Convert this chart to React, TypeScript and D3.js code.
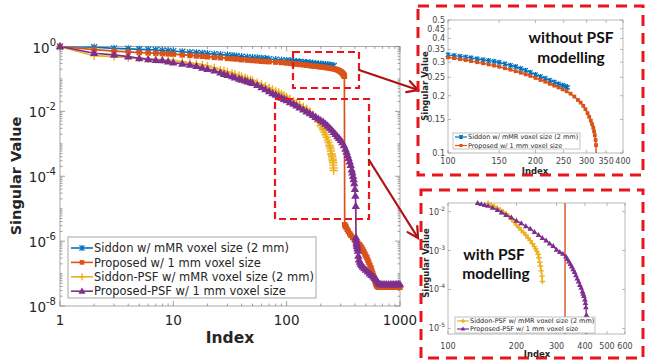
import React from 'react';
import * as d3 from 'd3';

// ---------------- Main plot data ----------------
const sidIdx = [1,2,3,4,5,6,7,8,9,10,12,14,16,18,20,23,26,30,33,36,40,45,50,55,60,65,70,80,90,100,108,115,122,130,140,150,160,170,180,190,200,210,220,230,240,250,260];
const sidVal = [1.0,0.95,0.88,0.85,0.82,0.8,0.78,0.76,0.74,0.72,0.69,0.66,0.64,0.62,0.6,0.58,0.56,0.54,0.525,0.51,0.49,0.47,0.455,0.445,0.43,0.42,0.41,0.395,0.38,0.37,0.36,0.35,0.342,0.335,0.327,0.32,0.312,0.305,0.297,0.29,0.285,0.28,0.275,0.27,0.265,0.26,0.25];

const propIdx = [1,2,3,4,5,6,7,8,9,10,12,14,16,18,20,23,26,30,33,36,40,45,50,55,60,65,70,80,90,100,108,115,122,130,140,150,160,170,180,190,200,210,220,230,240,250,260,270,278,285,292,298,303,308,312,315,318,320,322,323,
  325,330,334,342,350,360,369,382,395,410,425,438,450,460,470,480,490,500,510,520,530,543,555,565,575,583,590,598,605,612,620,635,650,670,690,710,735,760,790,820,850,880,910,940,970,1000];
const propVal = [1.0,0.8,0.72,0.68,0.65,0.63,0.61,0.6,0.59,0.58,0.55,0.53,0.51,0.5,0.48,0.46,0.45,0.43,0.42,0.41,0.39,0.38,0.37,0.36,0.35,0.345,0.34,0.33,0.32,0.31,0.302,0.295,0.288,0.28,0.272,0.265,0.257,0.25,0.245,0.24,0.235,0.23,0.225,0.22,0.215,0.21,0.205,0.2,0.193,0.185,0.177,0.17,0.162,0.155,0.148,0.14,0.135,0.13,0.125,0.12,
  3.2e-6,2.9e-6,2.7e-6,2.3e-6,2e-6,1.7e-6,1.5e-6,1.3e-6,1.1e-6,9.8e-7,8.7e-7,7.8e-7,7e-7,6.2e-7,5.4e-7,4.7e-7,4e-7,3.5e-7,3.1e-7,2.6e-7,2.2e-7,1.8e-7,1.5e-7,1.2e-7,1e-7,8.5e-8,7.5e-8,6.3e-8,5.5e-8,4.8e-8,4.2e-8,3.9e-8,3.8e-8,3.8e-8,3.8e-8,3.8e-8,3.8e-8,3.8e-8,3.8e-8,3.8e-8,3.8e-8,3.8e-8,3.8e-8,3.8e-8,3.8e-8,3.8e-8];

const sidPsfIdx = [1,2,3,4,5,6,7,8,9,10,12,14,16,18,20,23,26,28,30,33,35,38,40,43,45,48,50,55,60,65,70,75,80,85,90,95,100,107,115,122,130,140,150,160,170,180,190,200,205,210,215,220,225,230,234,238,241,244,246,248,250,252,254,255,257,258,259,260];
const sidPsfVal = [1.0,0.52,0.49,0.46,0.44,0.42,0.4,0.39,0.38,0.37,0.34,0.31,0.29,0.27,0.25,0.22,0.19,0.178,0.165,0.15,0.14,0.128,0.12,0.11,0.1,0.094,0.088,0.077,0.068,0.06,0.053,0.047,0.042,0.038,0.034,0.031,0.028,0.024,0.021,0.018,0.016,0.014,0.012,0.0098,0.0078,0.0062,0.0048,0.0036,0.0031,0.0027,0.0023,0.0019,0.0016,0.0013,0.0011,0.0009,0.0008,0.0007,0.0006,0.0005,0.00045,0.0004,0.00034,0.0003,0.00026,0.00022,0.00018,0.00015];

const propPsfIdx = [1,2,3,4,5,6,7,8,9,10,12,14,16,18,20,23,26,28,30,33,35,38,40,43,45,48,50,55,60,65,70,75,80,85,90,95,100,107,115,122,130,140,150,160,170,180,190,200,210,220,230,240,250,260,270,280,290,300,310,320,330,338,345,352,360,367,375,380,385,390,395,400,404,407,
  409,411,413,415,418,421,425,429,434,442,450,460,470,485,500,520,540,560,580,598,616,633,650,670,690,710,735,760,790,820,850,880,910,940,970,1000];
const propPsfVal = [1.0,0.62,0.55,0.49,0.43,0.4,0.38,0.37,0.34,0.32,0.29,0.27,0.25,0.22,0.2,0.18,0.155,0.14,0.13,0.12,0.11,0.1,0.093,0.088,0.083,0.078,0.074,0.064,0.055,0.048,0.041,0.036,0.032,0.029,0.026,0.024,0.022,0.019,0.017,0.015,0.013,0.0113,0.0099,0.0087,0.0076,0.0067,0.006,0.0053,0.0047,0.0041,0.0036,0.0031,0.0027,0.0023,0.002,0.0017,0.0015,0.0013,0.0011,0.0009,0.0007,0.00056,0.00045,0.00036,0.00028,0.00022,0.00016,0.00013,0.0001,8e-5,6e-5,4e-5,2.5e-5,1.2e-5,
  1.3e-6,1.1e-6,9e-7,8e-7,7e-7,6e-7,5e-7,3.5e-7,2.7e-7,2.3e-7,2e-7,1.8e-7,1.6e-7,1.45e-7,1.3e-7,1.15e-7,1e-7,9e-8,8e-8,7.2e-8,6.6e-8,5.6e-8,5e-8,4.6e-8,4.6e-8,4.6e-8,4.6e-8,4.6e-8,4.6e-8,4.6e-8,4.6e-8,4.6e-8,4.6e-8,4.6e-8,4.6e-8,4.6e-8];

// ---------------- Inset "without PSF" data ----------------
const inSidIdx = [100,105,110,115,120,126,132,138,144,150,157,164,171,178,185,192,200,208,216,224,232,240,248,254,258];
const inSidVal = [0.328,0.325,0.322,0.319,0.316,0.312,0.309,0.306,0.303,0.299,0.294,0.289,0.284,0.278,0.272,0.265,0.258,0.252,0.247,0.241,0.236,0.231,0.227,0.224,0.221];
const inPropIdx = [100,105,110,115,120,126,132,138,144,150,157,164,171,178,185,192,200,208,216,224,232,240,248,256,264,272,280,286,292,297,302,306,310,313,316,318,320,322,323,324];
const inPropVal = [0.318,0.315,0.311,0.308,0.304,0.3,0.296,0.292,0.288,0.284,0.279,0.274,0.269,0.264,0.259,0.254,0.248,0.242,0.237,0.231,0.226,0.221,0.216,0.211,0.205,0.198,0.19,0.184,0.177,0.17,0.162,0.155,0.148,0.142,0.136,0.13,0.124,0.117,0.11,0.05];

// ---------------- Inset "with PSF" data ----------------
const inSidPsfIdx = [145,150,155,160,165,170,175,180,185,190,195,200,205,210,215,220,225,230,235,240,243,246,249,251,253,255,257,259,260];
const inSidPsfVal = [0.0172,0.0162,0.0148,0.0135,0.0122,0.011,0.0098,0.0088,0.0076,0.0065,0.0055,0.0045,0.0039,0.0033,0.0029,0.0025,0.0021,0.0018,0.0015,0.00126,0.0011,0.00095,0.0008,0.00065,0.0005,0.0004,0.0003,0.00022,0.00016];
const inPropPsfIdx = [135,140,145,150,157,165,172,180,190,200,210,220,230,240,250,260,270,280,290,300,310,320,330,335,340,345,350,355,360,365,370,375,380,385,390,393,396,400,402,404,406,407];
const inPropPsfVal = [0.0165,0.0155,0.0147,0.014,0.0125,0.011,0.0095,0.0082,0.007,0.0058,0.005,0.0042,0.0036,0.003,0.0025,0.0021,0.0018,0.0015,0.0013,0.00105,0.00092,0.00082,0.0007,0.0006,0.00052,0.00045,0.00039,0.00033,0.00028,0.00023,0.00019,0.00016,0.00013,0.00011,8.9e-5,7.8e-5,6.8e-5,5.5e-5,4.5e-5,3.5e-5,2.2e-5,3e-6];
const inDropIdx = [327,327];
const inDropVal = [0.12,3e-6];

// ---------------- Labels ----------------
const legendLabels = [
  'Siddon w/ mMR voxel size (2 mm)',
  'Proposed w/ 1 mm voxel size',
  'Siddon-PSF w/ mMR voxel size (2 mm)',
  'Proposed-PSF w/ 1 mm voxel size',
];
const mainXTicks = [1,10,100,1000];
const mainYExps = [0,-2,-4,-6,-8];
const in1XTicks = [100,150,200,250,300,350,400];
const in1YTicks = [0.1,0.15,0.2,0.25,0.3,0.35,0.4,0.45,0.5];
const in2XTicks = [100,200,300,400,500,600];
const in2YExps = [-2,-3,-4,-5];

const C = { blue: '#0072BD', orange: '#D95319', yellow: '#EDB120', purple: '#7E2F8E' };
const FONT = 'DejaVu Sans, sans-serif';
const RED = '#E8161C';
const DARKRED = '#B01010';

type MT = 'ast' | 'sq' | 'plus' | 'tri';

function Mark({ t, x, y, c, s }: { t: MT; x: number; y: number; c: string; s: number }) {
  if (t === 'ast')
    return <path d={`M${x - s},${y - s}L${x + s},${y + s}M${x - s},${y + s}L${x + s},${y - s}M${x},${y - s * 1.2}V${y + s * 1.2}`} stroke={c} strokeWidth={1.2} fill="none" />;
  if (t === 'sq') return <rect x={x - s} y={y - s} width={2 * s} height={2 * s} fill={c} />;
  if (t === 'plus') return <path d={`M${x - s},${y}H${x + s}M${x},${y - s}V${y + s}`} stroke={c} strokeWidth={1.4} fill="none" />;
  return <path d={`M${x},${y - s}L${x + s * 0.95},${y + s * 0.65}L${x - s * 0.95},${y + s * 0.65}Z`} fill={c} />;
}

type Ser = { idx: number[]; val: number[]; c: string; t: MT; s: number; noMarks?: boolean };

function Series({ ser, xs, ys, clip, lw }: { ser: Ser; xs: any; ys: any; clip: string; lw: number }) {
  const pts = ser.idx.map((d, i) => [d, ser.val[i]] as [number, number]);
  const line = d3.line<[number, number]>().x(d => xs(d[0])).y(d => ys(d[1]));
  const [y0, y1] = ys.domain();
  const [x0, x1] = xs.domain();
  return (
    <g>
      <path d={line(pts) || ''} fill="none" stroke={ser.c} strokeWidth={lw} clipPath={`url(#${clip})`} />
      {!ser.noMarks && pts.filter(p => p[1] >= y0 * 0.999 && p[1] <= y1 * 1.001 && p[0] >= x0 && p[0] <= x1).map((p, i) => (
        <Mark key={i} t={ser.t} x={xs(p[0])} y={ys(p[1])} c={ser.c} s={ser.s} />
      ))}
    </g>
  );
}

function minorTicks(lo: number, hi: number) {
  const out: number[] = [];
  for (let e = lo; e < hi; e++) for (let m = 1; m < 10; m++) out.push(m * Math.pow(10, e));
  out.push(Math.pow(10, hi));
  return out;
}

function Arrow({ x1, y1, x2, y2 }: { x1: number; y1: number; x2: number; y2: number }) {
  const a = Math.atan2(y2 - y1, x2 - x1);
  const L = 12, w = 0.5;
  const p1 = [x2 - L * Math.cos(a - w), y2 - L * Math.sin(a - w)];
  const p2 = [x2 - L * Math.cos(a + w), y2 - L * Math.sin(a + w)];
  return (
    <g stroke={DARKRED} strokeWidth={2.2} fill="none" strokeLinecap="round">
      <line x1={x1} y1={y1} x2={x2} y2={y2} />
      <path d={`M${p1[0]},${p1[1]}L${x2},${y2}L${p2[0]},${p2[1]}`} />
    </g>
  );
}

export default function App() {
  const mx = d3.scaleLog().domain([1, 1000]).range([60, 400]);
  const my = d3.scaleLog().domain([1e-8, 1]).range([306, 46.5]);
  const ax = d3.scaleLog().domain([100, 400]).range([448, 623]);
  const ay = d3.scaleLog().domain([0.1, 0.5]).range([153, 20]);
  const bx = d3.scaleLog().domain([100, 600]).range([448, 625]);
  const by = d3.scaleLog().domain([7.2e-6, 0.0166]).range([334, 203]);

  const mainSeries: Ser[] = [
    { idx: sidIdx, val: sidVal, c: C.blue, t: 'ast', s: 3 },
    { idx: propIdx, val: propVal, c: C.orange, t: 'sq', s: 2.7 },
    { idx: sidPsfIdx, val: sidPsfVal, c: C.yellow, t: 'plus', s: 4.2 },
    { idx: propPsfIdx, val: propPsfVal, c: C.purple, t: 'tri', s: 4.4 },
  ];
  const in1Series: Ser[] = [
    { idx: inSidIdx, val: inSidVal, c: C.blue, t: 'ast', s: 2.2 },
    { idx: inPropIdx, val: inPropVal, c: C.orange, t: 'sq', s: 1.9 },
  ];
  const in2Series: Ser[] = [
    { idx: inDropIdx, val: inDropVal, c: C.orange, t: 'sq', s: 1.5, noMarks: true },
    { idx: inSidPsfIdx, val: inSidPsfVal, c: C.yellow, t: 'plus', s: 2.8 },
    { idx: inPropPsfIdx, val: inPropPsfVal, c: C.purple, t: 'tri', s: 3 },
  ];

  const axisCol = '#a8a8a8';
  const txtCol = '#262626';

  const [mxa, mxb] = mx.range();
  const [myb, mya] = my.range();

  const mainXMinor = minorTicks(0, 3);
  const mainYMinor = minorTicks(-8, 0);

  return (
    <svg width={645} height={364} style={{ position: 'absolute', left: 0, top: 0, background: '#fff' }} fontFamily={FONT}>
      <defs>
        <clipPath id="cm"><rect x={mxa} y={mya} width={mxb - mxa} height={myb - mya} /></clipPath>
        <clipPath id="c1"><rect x={448} y={20} width={175} height={133} /></clipPath>
        <clipPath id="c2"><rect x={448} y={203} width={177} height={131} /></clipPath>
      </defs>

      {/* ===== main plot ===== */}
      <rect x={mxa} y={mya} width={mxb - mxa} height={myb - mya} fill="#fff" stroke={axisCol} strokeWidth={1} />
      {mainXMinor.map((v, i) => {
        const big = mainXTicks.includes(v);
        const l = big ? 5 : 2.5;
        const x = mx(v);
        return <path key={'mxt' + i} d={`M${x},${myb}v${-l}M${x},${mya}v${l}`} stroke="#888" strokeWidth={0.8} />;
      })}
      {mainYMinor.map((v, i) => {
        const e = Math.round(Math.log10(v));
        const big = Math.abs(v / Math.pow(10, e) - 1) < 1e-9 && mainYExps.includes(e);
        const l = big ? 5 : 2.5;
        const y = my(v);
        return <path key={'myt' + i} d={`M${mxa},${y}h${l}M${mxb},${y}h${-l}`} stroke="#888" strokeWidth={0.8} />;
      })}
      {mainXTicks.map(v => (
        <text key={'mxl' + v} x={mx(v)} y={325} textAnchor="middle" fontSize={13.5} fill={txtCol}>{v}</text>
      ))}
      {mainYExps.map(e => (
        <text key={'myl' + e} x={56} y={my(Math.pow(10, e)) + 6} textAnchor="end" fontSize={13.5} fill={txtCol}>
          10<tspan dy={-7} fontSize={10}>{e}</tspan>
        </text>
      ))}
      <text x={230} y={343} textAnchor="middle" fontSize={15.5} fontWeight="bold" fill={txtCol}>Index</text>
      <text transform={`translate(21,176) rotate(-90)`} textAnchor="middle" fontSize={14.5} fontWeight="bold" fill={txtCol}>Singular Value</text>

      {mainSeries.map((s, i) => <Series key={'ms' + i} ser={s} xs={mx} ys={my} clip="cm" lw={1.7} />)}

      {/* main legend */}
      <rect x={68} y={237} width={248} height={61} fill="#fff" stroke={axisCol} strokeWidth={1} />
      {mainSeries.map((s, i) => {
        const y = 248 + i * 14.4;
        return (
          <g key={'lg' + i}>
            <line x1={71} x2={93} y1={y} y2={y} stroke={s.c} strokeWidth={1.6} />
            <Mark t={s.t} x={82} y={y} c={s.c} s={s.s * 0.85} />
            <text x={94} y={y + 4.2} fontSize={11.5} fill={txtCol}>{legendLabels[i]}</text>
          </g>
        );
      })}

      {/* red dashed zoom boxes */}
      <rect x={293} y={52} width={66} height={36} fill="none" stroke={RED} strokeWidth={2.2} strokeDasharray="7,4" />
      <rect x={275} y={99} width={94} height={120} fill="none" stroke={RED} strokeWidth={2.2} strokeDasharray="7,4" />
      <Arrow x1={359} y1={70} x2={418} y2={90} />
      <Arrow x1={369} y1={160} x2={418} y2={238} />

      {/* ===== inset 1 ===== */}
      <rect x={418} y={6} width={225} height={169} fill="none" stroke={RED} strokeWidth={3} strokeDasharray="11,7" />
      <rect x={448} y={20} width={175} height={133} fill="#fff" stroke={axisCol} strokeWidth={0.8} />
      {in1XTicks.map(v => (
        <g key={'a' + v}>
          <path d={`M${ax(v)},153v-3M${ax(v)},20v3`} stroke="#999" strokeWidth={0.7} />
          <text x={ax(v)} y={163.5} textAnchor="middle" fontSize={8} fill="#444">{v}</text>
        </g>
      ))}
      {in1YTicks.map(v => (
        <g key={'b' + v}>
          <path d={`M448,${ay(v)}h3M623,${ay(v)}h-3`} stroke="#999" strokeWidth={0.7} />
          <text x={445} y={ay(v) + 3} textAnchor="end" fontSize={8} fill="#444">{v}</text>
        </g>
      ))}
      <text x={535} y={173.5} textAnchor="middle" fontSize={8.5} fontWeight="bold" fill={txtCol}>Index</text>
      <text transform="translate(428,86) rotate(-90)" textAnchor="middle" fontSize={8.5} fontWeight="bold" fill={txtCol}>Singular Value</text>
      {in1Series.map((s, i) => <Series key={'i1' + i} ser={s} xs={ax} ys={ay} clip="c1" lw={1.4} />)}
      <text x={571} y={43} textAnchor="middle" fontSize={15.5} fontWeight="bold" fontFamily="Lato, sans-serif" fill="#111">without PSF</text>
      <text x={571} y={63} textAnchor="middle" fontSize={15.5} fontWeight="bold" fontFamily="Lato, sans-serif" fill="#111">modelling</text>
      <rect x={453} y={133} width={127} height={16} fill="#fff" stroke={axisCol} strokeWidth={0.7} />
      {in1Series.map((s, i) => {
        const y = 137 + i * 8.5;
        return (
          <g key={'l1' + i}>
            <line x1={455} x2={467} y1={y} y2={y} stroke={s.c} strokeWidth={1.2} />
            <Mark t={s.t} x={461} y={y} c={s.c} s={s.s * 0.8} />
            <text x={468} y={y + 2.4} fontSize={6.5} fill={txtCol}>{legendLabels[i]}</text>
          </g>
        );
      })}

      {/* ===== inset 2 ===== */}
      <rect x={421} y={190} width={222} height={168} fill="none" stroke={RED} strokeWidth={3} strokeDasharray="11,7" />
      <rect x={448} y={203} width={177} height={131} fill="#fff" stroke={axisCol} strokeWidth={0.8} />
      {in2XTicks.map(v => (
        <g key={'c' + v}>
          <path d={`M${bx(v)},334v-3M${bx(v)},203v3`} stroke="#999" strokeWidth={0.7} />
          <text x={bx(v)} y={349} textAnchor="middle" fontSize={8} fill="#444">{v}</text>
        </g>
      ))}
      {in2YExps.map(e => (
        <g key={'d' + e}>
          <path d={`M448,${by(Math.pow(10, e))}h3M625,${by(Math.pow(10, e))}h-3`} stroke="#999" strokeWidth={0.7} />
          <text x={445} y={by(Math.pow(10, e)) + 3} textAnchor="end" fontSize={8} fill="#444">
            10<tspan dy={-4} fontSize={6}>{e}</tspan>
          </text>
        </g>
      ))}
      <text x={537} y={356.5} textAnchor="middle" fontSize={8.5} fontWeight="bold" fill={txtCol}>Index</text>
      <text transform="translate(429,263) rotate(-90)" textAnchor="middle" fontSize={8.5} fontWeight="bold" fill={txtCol}>Singular Value</text>
      {in2Series.map((s, i) => <Series key={'i2' + i} ser={s} xs={bx} ys={by} clip="c2" lw={1.4} />)}
      <text x={494} y={260} textAnchor="middle" fontSize={15.5} fontWeight="bold" fontFamily="Lato, sans-serif" fill="#111">with PSF</text>
      <text x={496} y={279} textAnchor="middle" fontSize={15.5} fontWeight="bold" fontFamily="Lato, sans-serif" fill="#111">modelling</text>
      <rect x={455} y={317} width={140} height={16} fill="#fff" stroke={axisCol} strokeWidth={0.7} />
      {in2Series.slice(1).map((s, i) => {
        const y = 321 + i * 8;
        return (
          <g key={'l2' + i}>
            <line x1={457} x2={469} y1={y} y2={y} stroke={s.c} strokeWidth={1.2} />
            <Mark t={s.t} x={463} y={y} c={s.c} s={s.s * 0.8} />
            <text x={470} y={y + 2.4} fontSize={6.5} fill={txtCol}>{legendLabels[i + 2]}</text>
          </g>
        );
      })}
    </svg>
  );
}
